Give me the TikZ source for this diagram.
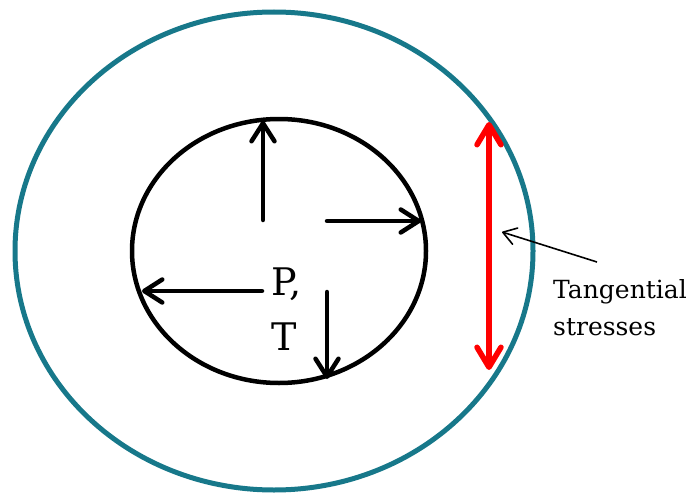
\documentclass[tikz,border=0pt]{standalone}
\usepackage{fontspec}
\setmainfont{DejaVu Serif}
\usetikzlibrary{arrows.meta, shapes.geometric}
\definecolor{ringteal}{RGB}{23,120,138}

\begin{document}
\begin{tikzpicture}[
            x=1pt, y=-1pt,
            ring/.style={draw, ellipse, inner sep=0pt, outer sep=0pt},
            push/.style={line width=4.5pt, line cap=round, -{Straight Barb[round, length=18pt, width=23pt]}},
            tangent/.style={line width=5.5pt, red, line cap=round, {Straight Barb[round, length=20pt, width=24pt]}-{Straight Barb[round, length=20pt, width=24pt]}},
            pointer/.style={line width=1.6pt, -{Straight Barb[round, length=13pt, width=17pt]}},
            label/.style={inner sep=0pt, align=left}
        ]
            \useasboundingbox (0,0) rectangle (691,495);
            \node[ring, draw=ringteal, line width=5pt, minimum width=518pt, minimum height=478pt] (outer) at (274,251) {};
            \node[ring, line width=4.5pt, minimum width=294pt, minimum height=264pt] (inner) at (279,251) {};
            % load arrows from inside the pipe
            \coordinate (upT) at (263,220);
            \coordinate (upH) at (263,121);
            \coordinate (rightT) at (327,221);
            \coordinate (rightH) at (421,221);
            \coordinate (leftT) at (262,291);
            \coordinate (leftH) at (142,291);
            \coordinate (downT) at (327,292);
            \coordinate (downH) at (327,379);
            \draw[push] (upT) -- (upH);
            \draw[push] (rightT) -- (rightH);
            \draw[push] (leftT) -- (leftH);
            \draw[push] (downT) -- (downH);
            \node[label, anchor=north west, font=\fontsize{38}{55}\selectfont] (pt) at (271,268) {P,\\T};
            % tangential stress on the outer wall
            \coordinate (tsTop) at (489,122);
            \coordinate (tsBot) at (489,370);
            \draw[tangent] (tsTop) -- (tsBot);
            \node[label, anchor=north west, font=\fontsize{25}{37}\selectfont] (ts) at (553,279) {Tangential\\stresses};
            \coordinate (ptrTail) at (597,262);
            \coordinate (ptrHead) at (502,232);
            \draw[pointer] (ptrTail) -- (ptrHead);
        \end{tikzpicture}
\end{document}
